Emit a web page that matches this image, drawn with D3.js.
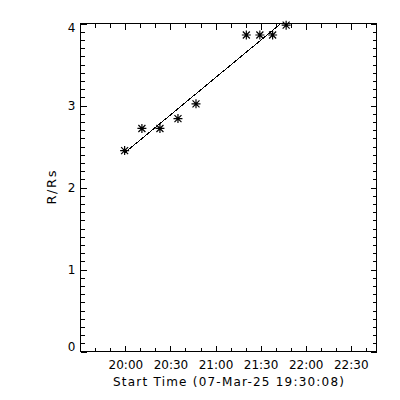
<!DOCTYPE html>
<html>
    <head>
        <meta charset="utf-8">
        <title>R/Rs vs start time</title>
        <script src="https://d3js.org/d3.v7.min.js"></script>
        <style>
            body { margin: 0; background: #fff; }
            text { font-family: "DejaVu Sans", sans-serif; font-size: 12px; fill: #000; }
        </style>
    </head>
    <body>
        <script>
            // data (times are UT on 07-Mar-25)
            var times = ["19:59:30", "20:11:00", "20:23:00", "20:35:00", "20:47:00",
                         "21:20:30", "21:29:30", "21:38:00", "21:47:00"];
            var heights = [2.45, 2.72, 2.72, 2.84, 3.02, 3.86, 3.86, 3.86, 3.98];
            var xTickLabels = ["20:00", "20:30", "21:00", "21:30", "22:00", "22:30"];
            var yTicks = [0, 1, 2, 3, 4];
            var startTime = "19:30:08";
            var endTime = "22:47:08";

            var w = 400, h = 400;
            // note: "top" is taken by window.top, so use px* names
            var pxLeft = 80.5, pxRight = 376.5, pxTop = 23.5, pxBottom = 351.5;

            function toDate(s) { return new Date("2025-03-07T" + s + "Z"); }

            var svg = d3.select("body").append("svg")
                .attr("width", w)
                .attr("height", h);
            svg.append("rect").attr("width", w).attr("height", h).attr("fill", "#fff");

            var x = d3.scaleUtc()
                .domain([toDate(startTime), toDate(endTime)])
                .range([pxLeft, pxRight]);
            var y = d3.scaleLinear()
                .domain([0, 4])
                .range([pxBottom, pxTop]);

            var majorX = xTickLabels.map(toDate);
            var minorX = d3.utcMinute.every(10).range(toDate("19:40:00"), toDate("22:41:00"));
            var minorY = d3.range(0, 40).map(function(i) { return i / 10; });

            // ticks all point inward, on all four sides
            function addAxis(axis, tx, ty) {
                var g = svg.append("g")
                    .attr("transform", "translate(" + tx + "," + ty + ")")
                    .attr("shape-rendering", "crispEdges")
                    .call(axis);
                g.select(".domain").remove();
                g.selectAll("line").attr("stroke", "#000");
                return g;
            }
            addAxis(d3.axisBottom(x).tickValues(minorX).tickSize(-4).tickFormat(""), 0, pxBottom);
            addAxis(d3.axisTop(x).tickValues(minorX).tickSize(-4).tickFormat(""), 0, pxTop);
            addAxis(d3.axisLeft(y).tickValues(minorY).tickSize(-4).tickFormat(""), pxLeft, 0);
            addAxis(d3.axisRight(y).tickValues(minorY).tickSize(-4).tickFormat(""), pxRight, 0);

            var xb = addAxis(d3.axisBottom(x).tickValues(majorX).tickSize(-6).tickPadding(9)
                .tickFormat(function(d, i) { return xTickLabels[i]; }), 0, pxBottom);
            xb.attr("font-size", null).attr("font-family", null);
            addAxis(d3.axisTop(x).tickValues(majorX).tickSize(-6).tickFormat(""), 0, pxTop);
            addAxis(d3.axisLeft(y).tickValues(yTicks).tickSize(-6).tickFormat(""), pxLeft, 0);
            addAxis(d3.axisRight(y).tickValues(yTicks).tickSize(-6).tickFormat(""), pxRight, 0);

            // y labels, kept inside the axis range at the ends
            svg.selectAll(".ylab")
                .data(yTicks)
                .enter()
                .append("text")
                .attr("class", "ylab")
                .attr("x", pxLeft - 5)
                .attr("y", function(d) { return Math.max(pxTop + 4.5, Math.min(pxBottom - 4.5, y(d))); })
                .attr("dy", "0.36em")
                .attr("text-anchor", "end")
                .text(function(d) { return d; });

            // frame
            svg.append("rect")
                .attr("x", pxLeft).attr("y", pxTop)
                .attr("width", pxRight - pxLeft).attr("height", pxBottom - pxTop)
                .attr("fill", "none").attr("stroke", "#000")
                .attr("shape-rendering", "crispEdges");

            svg.append("text")
                .attr("x", (pxLeft + pxRight) / 2)
                .attr("y", 386)
                .attr("text-anchor", "middle")
                .attr("textLength", 231)
                .attr("lengthAdjust", "spacing")
                .text("Start Time (07-Mar-25 " + startTime + ")");

            svg.append("text")
                .attr("transform", "translate(56," + (pxTop + pxBottom) / 2 + ") rotate(-90)")
                .attr("text-anchor", "middle")
                .style("font-size", "13px")
                .attr("textLength", 34)
                .attr("lengthAdjust", "spacing")
                .text("R/Rs");

            // linear fit through the points, drawn first to last time
            var pts = times.map(function(t, i) { return { t: toDate(t), v: heights[i] }; });
            var mx = d3.mean(pts, function(d) { return +d.t; });
            var my = d3.mean(pts, function(d) { return d.v; });
            var sxy = d3.sum(pts, function(d) { return (d.t - mx) * (d.v - my); });
            var sxx = d3.sum(pts, function(d) { return (d.t - mx) * (d.t - mx); });
            var slope = sxy / sxx;
            var ends = [pts[0].t, pts[pts.length - 1].t];

            svg.append("clipPath").attr("id", "plotclip")
                .append("rect")
                .attr("x", pxLeft).attr("y", pxTop)
                .attr("width", pxRight - pxLeft).attr("height", pxBottom - pxTop);

            svg.append("path")
                .datum(ends)
                .attr("clip-path", "url(#plotclip)")
                .attr("fill", "none")
                .attr("stroke", "#000")
                .attr("shape-rendering", "crispEdges")
                .attr("d", d3.line()
                    .x(function(d) { return x(d); })
                    .y(function(d) { return y(my + slope * (d - mx)); }));

            // asterisk symbols
            var star = "M-4.5,0L4.5,0M0,-4.5L0,4.5M-3.5,-3.5L3.5,3.5M-3.5,3.5L3.5,-3.5";
            svg.selectAll(".pt")
                .data(pts)
                .enter()
                .append("path")
                .attr("class", "pt")
                .attr("transform", function(d) { return "translate(" + x(d.t) + "," + y(d.v) + ")"; })
                .attr("d", star)
                .attr("fill", "none")
                .attr("stroke", "#000")
                .attr("stroke-width", 1.2);
        </script>
    </body>
</html>
